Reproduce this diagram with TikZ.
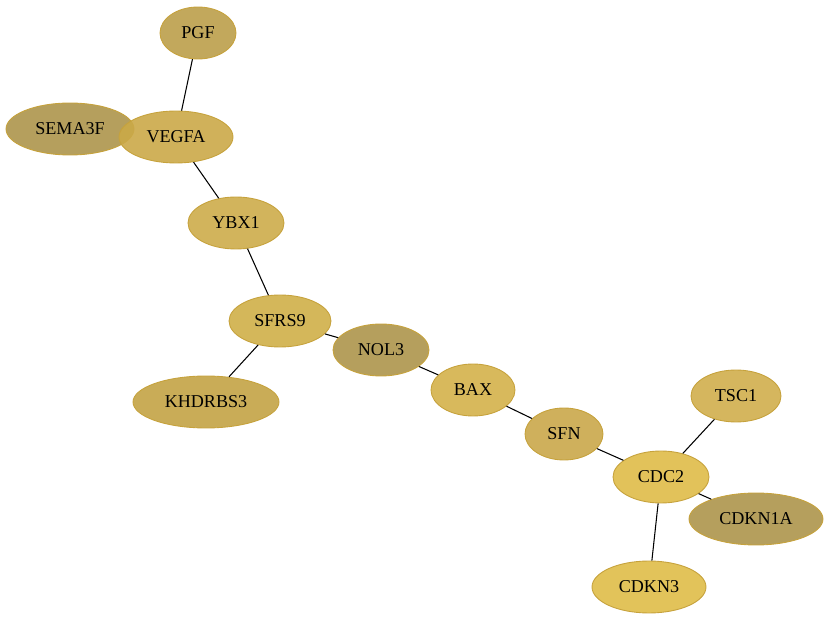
\documentclass[tikz,border=0pt]{standalone}
\usepackage{fontspec}
\setmainfont{Liberation Serif}
\usepackage{tikz}
\usetikzlibrary{shapes.geometric}

\definecolor{pgfc}{HTML}{BB9E4A}
\definecolor{semac}{HTML}{AD954B}
\definecolor{vegfac}{HTML}{CBA948}
\definecolor{ybxc}{HTML}{CDAC4A}
\definecolor{sfrsc}{HTML}{CFAF48}
\definecolor{khdc}{HTML}{C3A345}
\definecolor{nolc}{HTML}{AD954B}
\definecolor{baxc}{HTML}{D4B14A}
\definecolor{sfnc}{HTML}{CAA74A}
\definecolor{cdcc}{HTML}{DFBB48}
\definecolor{tscc}{HTML}{D0AE4C}
\definecolor{cdkac}{HTML}{AD954B}
\definecolor{cdk3c}{HTML}{DFBC48}
\definecolor{rimc}{HTML}{C6A23C}

\begin{document}
\begin{tikzpicture}[x=0.02cm, y=-0.02cm,
    gene/.style={ellipse, draw=rimc, line width=0.5pt, fill opacity=0.9,
        text opacity=1, inner sep=0pt, minimum height=1.04cm, font=\fontsize{10.3}{12}\selectfont},
    link/.style={black, line width=0.6pt}]

    \useasboundingbox (0,0) rectangle (829,621);

    % genes
    \node[gene, fill=pgfc, minimum width=1.52cm] (pgf) at (198,33) {PGF};
    \node[gene, fill=semac, minimum width=2.56cm] (sema3f) at (70,129) {SEMA3F};
    \node[gene, fill=vegfac, minimum width=2.28cm] (vegfa) at (176,137) {VEGFA};
    \node[gene, fill=ybxc, minimum width=1.92cm] (ybx1) at (236,223) {YBX1};
    \node[gene, fill=sfrsc, minimum width=2.04cm] (sfrs9) at (280,321) {SFRS9};
    \node[gene, fill=khdc, minimum width=2.92cm] (khdrbs3) at (206,402) {KHDRBS3};
    \node[gene, fill=nolc, minimum width=1.92cm] (nol3) at (381,350) {NOL3};
    \node[gene, fill=baxc, minimum width=1.68cm] (bax) at (473,390) {BAX};
    \node[gene, fill=sfnc, minimum width=1.56cm] (sfn) at (564,434) {SFN};
    \node[gene, fill=cdcc, minimum width=1.92cm] (cdc2) at (661,477) {CDC2};
    \node[gene, fill=tscc, minimum width=1.80cm] (tsc1) at (736,396) {TSC1};
    \node[gene, fill=cdkac, minimum width=2.68cm] (cdkn1a) at (756,519) {CDKN1A};
    \node[gene, fill=cdk3c, minimum width=2.28cm] (cdkn3) at (649,587) {CDKN3};

    % interactions
    \draw[link] (pgf) -- (vegfa);
    \draw[link] (vegfa) -- (ybx1);
    \draw[link] (ybx1) -- (sfrs9);
    \draw[link] (sfrs9) -- (khdrbs3);
    \draw[link] (sfrs9) -- (nol3);
    \draw[link] (nol3) -- (bax);
    \draw[link] (bax) -- (sfn);
    \draw[link] (sfn) -- (cdc2);
    \draw[link] (cdc2) -- (tsc1);
    \draw[link] (cdc2) -- (cdkn1a);
    \draw[link] (cdc2) -- (cdkn3);
\end{tikzpicture}
\end{document}
